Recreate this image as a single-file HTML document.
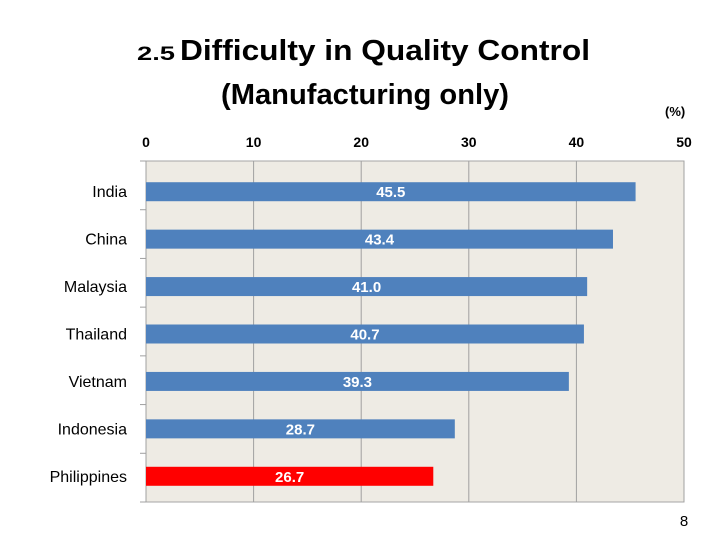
<!DOCTYPE html>
<html><head><meta charset="utf-8"><style>
html,body{margin:0;padding:0;background:#fff;}
svg{display:block;font-family:"Liberation Sans",sans-serif;}
</style></head><body>
<svg id="chart" width="728" height="546" viewBox="0 0 728 546">
<text x="137" y="60" font-size="19" font-weight="bold" textLength="38" lengthAdjust="spacingAndGlyphs">2.5</text>
<text x="180" y="60" font-size="29" font-weight="bold" textLength="410" lengthAdjust="spacingAndGlyphs">Difficulty in Quality Control</text>
<text x="221" y="104" font-size="29" font-weight="bold" textLength="288" lengthAdjust="spacingAndGlyphs">(Manufacturing only)</text>
<text x="665" y="116" font-size="13" font-weight="bold">(%)</text>
<g id="plot"></g>
<text x="684" y="526" font-size="15" text-anchor="middle">8</text>
</svg>
<script>
const categories = ["India","China","Malaysia","Thailand","Vietnam","Indonesia","Philippines"];
const values = [45.5,43.4,41.0,40.7,39.3,28.7,26.7];
const ticks = [0,10,20,30,40,50];
const highlight = ["Philippines"];

const ns="http://www.w3.org/2000/svg";
const g=document.getElementById('plot');
const L=146,R=684,T=161,B=502;
const x=v=>L+(R-L)*v/50;
const band=(B-T)/categories.length;
const innerBand=(B-T-9)/categories.length;
const yc=i=>T+7+innerBand*(i+0.5);
function mk(t,a){const e=document.createElementNS(ns,t);for(const k in a)e.setAttribute(k,a[k]);g.appendChild(e);return e;}
const bg=mk('rect',{x:L,y:T,width:R-L,height:B-T,fill:'#eeebe4',stroke:'#a6a6a6'});


ticks.forEach(t=>{
  const l=mk('line',{x1:x(t),x2:x(t),y1:T,y2:B,stroke:'#a0a0a0','stroke-width':1});
  
  
  const tx=mk('text',{x:x(t),y:147,'font-size':14,'font-weight':'bold','text-anchor':'middle'});
  tx.textContent=t;
  
  
});
for(let i=0;i<=categories.length;i++){
  const ty=T+band*i;
  const l=mk('line',{x1:L-6,x2:L,y1:ty,y2:ty,stroke:'#a0a0a0'});
  
  
}
categories.forEach((c,i)=>{
  const cy=yc(i);
  const r=mk('rect',{x:L,y:cy-9.5,width:x(values[i])-L,height:19,fill:highlight.includes(c)?'#ff0000':'#4f81bd'});
  
  
  const v=mk('text',{x:(L+x(values[i]))/2,y:cy+5.5,'font-size':15,'font-weight':'bold',fill:'#fff','text-anchor':'middle'});
  v.textContent=values[i].toFixed(1);
  
  
  const lb=mk('text',{x:127,y:cy+5.5,'font-size':16,'text-anchor':'end'});
  lb.textContent=c;
  
  
});
</script>
</body></html>
